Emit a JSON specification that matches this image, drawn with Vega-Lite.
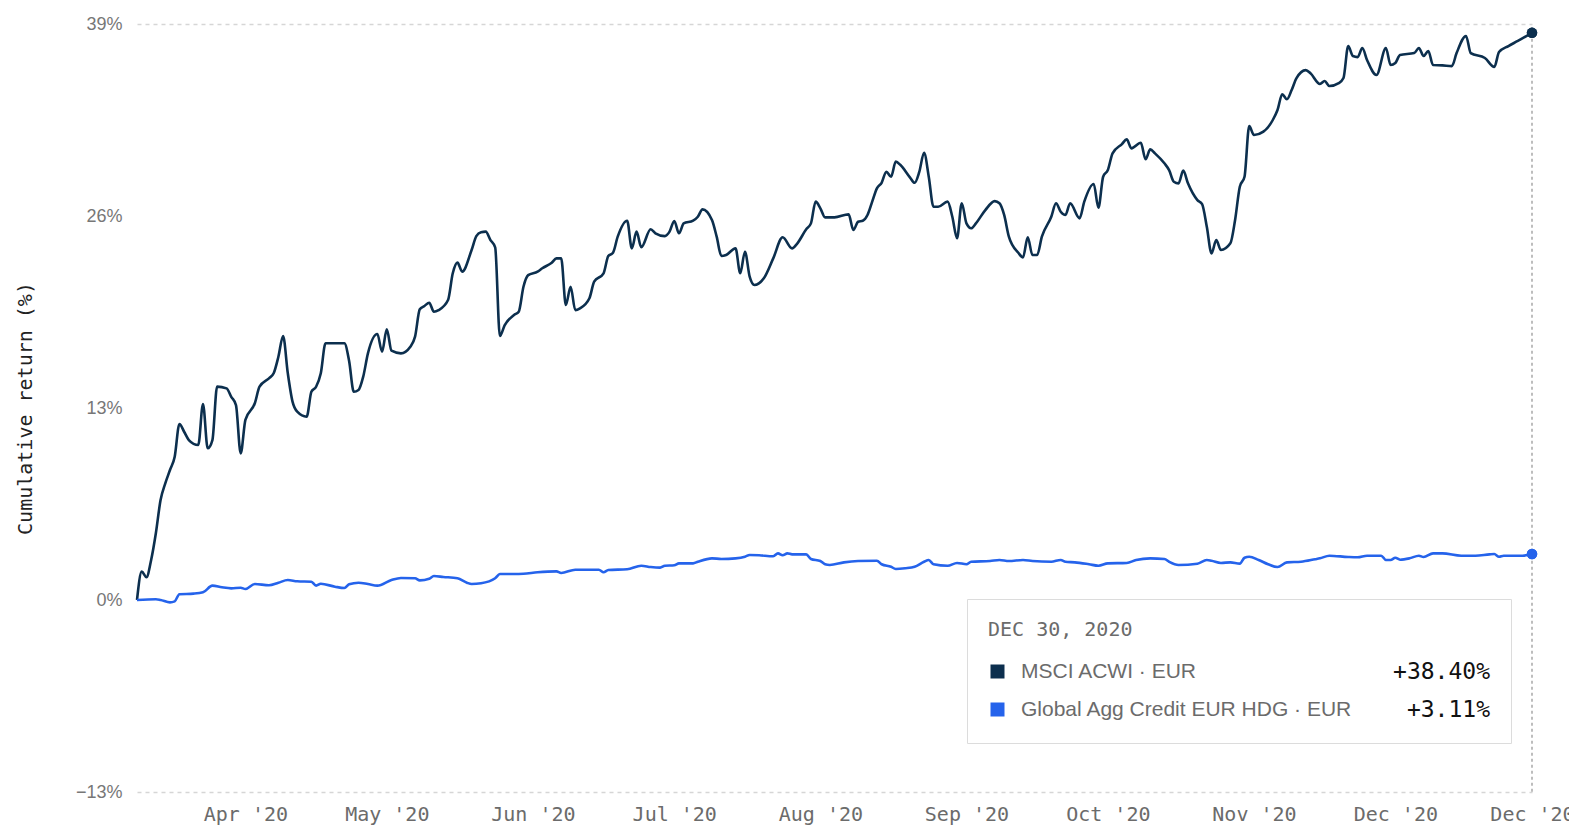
{
"$schema":"https://vega.github.io/schema/vega-lite/v6.json",
"width":1395,"height":768,
"autosize":{"type":"none"},
"padding":{"left":137,"top":24,"right":37,"bottom":48},
"background":"#ffffff",
"config":{"view":{"stroke":null}},
"datasets":{"rows":[
{"date":"2020-03-09","series":"MSCI ACWI · EUR","value":0},
{"date":"2020-03-10","series":"MSCI ACWI · EUR","value":1.92},
{"date":"2020-03-11","series":"MSCI ACWI · EUR","value":1.54},
{"date":"2020-03-12","series":"MSCI ACWI · EUR","value":2.71},
{"date":"2020-03-13","series":"MSCI ACWI · EUR","value":4.52},
{"date":"2020-03-14","series":"MSCI ACWI · EUR","value":6.77},
{"date":"2020-03-15","series":"MSCI ACWI · EUR","value":7.9},
{"date":"2020-03-16","series":"MSCI ACWI · EUR","value":8.8},
{"date":"2020-03-17","series":"MSCI ACWI · EUR","value":9.7},
{"date":"2020-03-18","series":"MSCI ACWI · EUR","value":11.92},
{"date":"2020-03-19","series":"MSCI ACWI · EUR","value":11.39},
{"date":"2020-03-20","series":"MSCI ACWI · EUR","value":10.83},
{"date":"2020-03-22","series":"MSCI ACWI · EUR","value":10.49},
{"date":"2020-03-23","series":"MSCI ACWI · EUR","value":13.27},
{"date":"2020-03-24","series":"MSCI ACWI · EUR","value":10.27},
{"date":"2020-03-25","series":"MSCI ACWI · EUR","value":10.83},
{"date":"2020-03-26","series":"MSCI ACWI · EUR","value":14.45},
{"date":"2020-03-28","series":"MSCI ACWI · EUR","value":14.33},
{"date":"2020-03-29","series":"MSCI ACWI · EUR","value":13.76},
{"date":"2020-03-30","series":"MSCI ACWI · EUR","value":13.2},
{"date":"2020-03-31","series":"MSCI ACWI · EUR","value":9.93},
{"date":"2020-04-01","series":"MSCI ACWI · EUR","value":12.19},
{"date":"2020-04-03","series":"MSCI ACWI · EUR","value":13.32},
{"date":"2020-04-04","series":"MSCI ACWI · EUR","value":14.44},
{"date":"2020-04-06","series":"MSCI ACWI · EUR","value":15.01},
{"date":"2020-04-07","series":"MSCI ACWI · EUR","value":15.35},
{"date":"2020-04-08","series":"MSCI ACWI · EUR","value":16.47},
{"date":"2020-04-09","series":"MSCI ACWI · EUR","value":17.87},
{"date":"2020-04-10","series":"MSCI ACWI · EUR","value":15.35},
{"date":"2020-04-11","series":"MSCI ACWI · EUR","value":13.43},
{"date":"2020-04-12","series":"MSCI ACWI · EUR","value":12.75},
{"date":"2020-04-14","series":"MSCI ACWI · EUR","value":12.41},
{"date":"2020-04-15","series":"MSCI ACWI · EUR","value":14.1},
{"date":"2020-04-16","series":"MSCI ACWI · EUR","value":14.44},
{"date":"2020-04-17","series":"MSCI ACWI · EUR","value":15.35},
{"date":"2020-04-18","series":"MSCI ACWI · EUR","value":17.38},
{"date":"2020-04-20","series":"MSCI ACWI · EUR","value":17.38},
{"date":"2020-04-22","series":"MSCI ACWI · EUR","value":17.38},
{"date":"2020-04-23","series":"MSCI ACWI · EUR","value":16.2},
{"date":"2020-04-24","series":"MSCI ACWI · EUR","value":14.1},
{"date":"2020-04-25","series":"MSCI ACWI · EUR","value":14.22},
{"date":"2020-04-26","series":"MSCI ACWI · EUR","value":15.12},
{"date":"2020-04-27","series":"MSCI ACWI · EUR","value":16.7},
{"date":"2020-04-29","series":"MSCI ACWI · EUR","value":18.01},
{"date":"2020-04-30","series":"MSCI ACWI · EUR","value":16.81},
{"date":"2020-05-01","series":"MSCI ACWI · EUR","value":18.33},
{"date":"2020-05-02","series":"MSCI ACWI · EUR","value":16.88},
{"date":"2020-05-04","series":"MSCI ACWI · EUR","value":16.7},
{"date":"2020-05-06","series":"MSCI ACWI · EUR","value":17.15},
{"date":"2020-05-07","series":"MSCI ACWI · EUR","value":17.83},
{"date":"2020-05-08","series":"MSCI ACWI · EUR","value":19.68},
{"date":"2020-05-09","series":"MSCI ACWI · EUR","value":19.91},
{"date":"2020-05-10","series":"MSCI ACWI · EUR","value":20.13},
{"date":"2020-05-11","series":"MSCI ACWI · EUR","value":19.52},
{"date":"2020-05-12","series":"MSCI ACWI · EUR","value":19.63},
{"date":"2020-05-14","series":"MSCI ACWI · EUR","value":20.31},
{"date":"2020-05-15","series":"MSCI ACWI · EUR","value":22.12},
{"date":"2020-05-16","series":"MSCI ACWI · EUR","value":22.84},
{"date":"2020-05-17","series":"MSCI ACWI · EUR","value":22.23},
{"date":"2020-05-19","series":"MSCI ACWI · EUR","value":23.7},
{"date":"2020-05-20","series":"MSCI ACWI · EUR","value":24.64},
{"date":"2020-05-21","series":"MSCI ACWI · EUR","value":24.9},
{"date":"2020-05-22","series":"MSCI ACWI · EUR","value":24.94},
{"date":"2020-05-23","series":"MSCI ACWI · EUR","value":24.37},
{"date":"2020-05-24","series":"MSCI ACWI · EUR","value":23.88},
{"date":"2020-05-25","series":"MSCI ACWI · EUR","value":17.87},
{"date":"2020-05-26","series":"MSCI ACWI · EUR","value":18.6},
{"date":"2020-05-28","series":"MSCI ACWI · EUR","value":19.3},
{"date":"2020-05-29","series":"MSCI ACWI · EUR","value":19.52},
{"date":"2020-05-30","series":"MSCI ACWI · EUR","value":21.21},
{"date":"2020-05-31","series":"MSCI ACWI · EUR","value":22.0},
{"date":"2020-06-02","series":"MSCI ACWI · EUR","value":22.23},
{"date":"2020-06-03","series":"MSCI ACWI · EUR","value":22.46},
{"date":"2020-06-05","series":"MSCI ACWI · EUR","value":22.84},
{"date":"2020-06-06","series":"MSCI ACWI · EUR","value":23.13},
{"date":"2020-06-07","series":"MSCI ACWI · EUR","value":23.13},
{"date":"2020-06-08","series":"MSCI ACWI · EUR","value":19.97},
{"date":"2020-06-09","series":"MSCI ACWI · EUR","value":21.21},
{"date":"2020-06-10","series":"MSCI ACWI · EUR","value":19.63},
{"date":"2020-06-11","series":"MSCI ACWI · EUR","value":19.75},
{"date":"2020-06-13","series":"MSCI ACWI · EUR","value":20.43},
{"date":"2020-06-14","series":"MSCI ACWI · EUR","value":21.55},
{"date":"2020-06-16","series":"MSCI ACWI · EUR","value":22.12},
{"date":"2020-06-17","series":"MSCI ACWI · EUR","value":23.29},
{"date":"2020-06-18","series":"MSCI ACWI · EUR","value":23.51},
{"date":"2020-06-19","series":"MSCI ACWI · EUR","value":24.6},
{"date":"2020-06-21","series":"MSCI ACWI · EUR","value":25.68},
{"date":"2020-06-22","series":"MSCI ACWI · EUR","value":23.81},
{"date":"2020-06-23","series":"MSCI ACWI · EUR","value":24.94},
{"date":"2020-06-24","series":"MSCI ACWI · EUR","value":23.88},
{"date":"2020-06-26","series":"MSCI ACWI · EUR","value":25.1},
{"date":"2020-06-27","series":"MSCI ACWI · EUR","value":24.83},
{"date":"2020-06-29","series":"MSCI ACWI · EUR","value":24.64},
{"date":"2020-06-30","series":"MSCI ACWI · EUR","value":24.94},
{"date":"2020-07-01","series":"MSCI ACWI · EUR","value":25.66},
{"date":"2020-07-02","series":"MSCI ACWI · EUR","value":24.83},
{"date":"2020-07-03","series":"MSCI ACWI · EUR","value":25.5},
{"date":"2020-07-05","series":"MSCI ACWI · EUR","value":25.68},
{"date":"2020-07-06","series":"MSCI ACWI · EUR","value":25.95},
{"date":"2020-07-07","series":"MSCI ACWI · EUR","value":26.45},
{"date":"2020-07-09","series":"MSCI ACWI · EUR","value":25.73},
{"date":"2020-07-10","series":"MSCI ACWI · EUR","value":24.6},
{"date":"2020-07-11","series":"MSCI ACWI · EUR","value":23.29},
{"date":"2020-07-12","series":"MSCI ACWI · EUR","value":23.36},
{"date":"2020-07-14","series":"MSCI ACWI · EUR","value":23.81},
{"date":"2020-07-15","series":"MSCI ACWI · EUR","value":22.12},
{"date":"2020-07-16","series":"MSCI ACWI · EUR","value":23.58},
{"date":"2020-07-17","series":"MSCI ACWI · EUR","value":21.89},
{"date":"2020-07-18","series":"MSCI ACWI · EUR","value":21.33},
{"date":"2020-07-20","series":"MSCI ACWI · EUR","value":21.78},
{"date":"2020-07-22","series":"MSCI ACWI · EUR","value":23.13},
{"date":"2020-07-24","series":"MSCI ACWI · EUR","value":24.56},
{"date":"2020-07-26","series":"MSCI ACWI · EUR","value":23.81},
{"date":"2020-07-27","series":"MSCI ACWI · EUR","value":24.1},
{"date":"2020-07-29","series":"MSCI ACWI · EUR","value":25.1},
{"date":"2020-07-30","series":"MSCI ACWI · EUR","value":25.5},
{"date":"2020-07-31","series":"MSCI ACWI · EUR","value":26.97},
{"date":"2020-08-01","series":"MSCI ACWI · EUR","value":26.52},
{"date":"2020-08-02","series":"MSCI ACWI · EUR","value":25.91},
{"date":"2020-08-04","series":"MSCI ACWI · EUR","value":25.91},
{"date":"2020-08-07","series":"MSCI ACWI · EUR","value":26.11},
{"date":"2020-08-08","series":"MSCI ACWI · EUR","value":25.05},
{"date":"2020-08-09","series":"MSCI ACWI · EUR","value":25.61},
{"date":"2020-08-10","series":"MSCI ACWI · EUR","value":25.68},
{"date":"2020-08-11","series":"MSCI ACWI · EUR","value":26.07},
{"date":"2020-08-12","series":"MSCI ACWI · EUR","value":26.97},
{"date":"2020-08-13","series":"MSCI ACWI · EUR","value":27.87},
{"date":"2020-08-14","series":"MSCI ACWI · EUR","value":28.25},
{"date":"2020-08-15","series":"MSCI ACWI · EUR","value":29.0},
{"date":"2020-08-16","series":"MSCI ACWI · EUR","value":28.66},
{"date":"2020-08-17","series":"MSCI ACWI · EUR","value":29.68},
{"date":"2020-08-18","series":"MSCI ACWI · EUR","value":29.45},
{"date":"2020-08-20","series":"MSCI ACWI · EUR","value":28.62},
{"date":"2020-08-21","series":"MSCI ACWI · EUR","value":28.25},
{"date":"2020-08-22","series":"MSCI ACWI · EUR","value":29.0},
{"date":"2020-08-23","series":"MSCI ACWI · EUR","value":30.28},
{"date":"2020-08-24","series":"MSCI ACWI · EUR","value":28.66},
{"date":"2020-08-25","series":"MSCI ACWI · EUR","value":26.63},
{"date":"2020-08-26","series":"MSCI ACWI · EUR","value":26.63},
{"date":"2020-08-28","series":"MSCI ACWI · EUR","value":26.97},
{"date":"2020-08-29","series":"MSCI ACWI · EUR","value":25.95},
{"date":"2020-08-30","series":"MSCI ACWI · EUR","value":24.49},
{"date":"2020-08-31","series":"MSCI ACWI · EUR","value":26.86},
{"date":"2020-09-01","series":"MSCI ACWI · EUR","value":25.5},
{"date":"2020-09-02","series":"MSCI ACWI · EUR","value":25.17},
{"date":"2020-09-03","series":"MSCI ACWI · EUR","value":25.5},
{"date":"2020-09-05","series":"MSCI ACWI · EUR","value":26.4},
{"date":"2020-09-07","series":"MSCI ACWI · EUR","value":27.01},
{"date":"2020-09-08","series":"MSCI ACWI · EUR","value":26.86},
{"date":"2020-09-09","series":"MSCI ACWI · EUR","value":26.07},
{"date":"2020-09-10","series":"MSCI ACWI · EUR","value":24.6},
{"date":"2020-09-12","series":"MSCI ACWI · EUR","value":23.51},
{"date":"2020-09-13","series":"MSCI ACWI · EUR","value":23.2},
{"date":"2020-09-14","series":"MSCI ACWI · EUR","value":24.56},
{"date":"2020-09-15","series":"MSCI ACWI · EUR","value":23.36},
{"date":"2020-09-16","series":"MSCI ACWI · EUR","value":23.36},
{"date":"2020-09-17","series":"MSCI ACWI · EUR","value":24.6},
{"date":"2020-09-19","series":"MSCI ACWI · EUR","value":25.95},
{"date":"2020-09-20","series":"MSCI ACWI · EUR","value":26.86},
{"date":"2020-09-21","series":"MSCI ACWI · EUR","value":26.29},
{"date":"2020-09-22","series":"MSCI ACWI · EUR","value":26.07},
{"date":"2020-09-23","series":"MSCI ACWI · EUR","value":26.86},
{"date":"2020-09-25","series":"MSCI ACWI · EUR","value":25.84},
{"date":"2020-09-26","series":"MSCI ACWI · EUR","value":26.97},
{"date":"2020-09-28","series":"MSCI ACWI · EUR","value":28.17},
{"date":"2020-09-29","series":"MSCI ACWI · EUR","value":26.56},
{"date":"2020-09-30","series":"MSCI ACWI · EUR","value":28.66},
{"date":"2020-10-01","series":"MSCI ACWI · EUR","value":29.11},
{"date":"2020-10-02","series":"MSCI ACWI · EUR","value":30.24},
{"date":"2020-10-04","series":"MSCI ACWI · EUR","value":30.87},
{"date":"2020-10-05","series":"MSCI ACWI · EUR","value":31.19},
{"date":"2020-10-06","series":"MSCI ACWI · EUR","value":30.58},
{"date":"2020-10-08","series":"MSCI ACWI · EUR","value":30.96},
{"date":"2020-10-09","series":"MSCI ACWI · EUR","value":29.84},
{"date":"2020-10-10","series":"MSCI ACWI · EUR","value":30.51},
{"date":"2020-10-11","series":"MSCI ACWI · EUR","value":30.24},
{"date":"2020-10-13","series":"MSCI ACWI · EUR","value":29.57},
{"date":"2020-10-14","series":"MSCI ACWI · EUR","value":29.11},
{"date":"2020-10-15","series":"MSCI ACWI · EUR","value":28.32},
{"date":"2020-10-16","series":"MSCI ACWI · EUR","value":28.21},
{"date":"2020-10-17","series":"MSCI ACWI · EUR","value":29.07},
{"date":"2020-10-18","series":"MSCI ACWI · EUR","value":28.21},
{"date":"2020-10-20","series":"MSCI ACWI · EUR","value":27.08},
{"date":"2020-10-21","series":"MSCI ACWI · EUR","value":26.81},
{"date":"2020-10-22","series":"MSCI ACWI · EUR","value":25.27},
{"date":"2020-10-23","series":"MSCI ACWI · EUR","value":23.47},
{"date":"2020-10-24","series":"MSCI ACWI · EUR","value":24.37},
{"date":"2020-10-25","series":"MSCI ACWI · EUR","value":23.7},
{"date":"2020-10-27","series":"MSCI ACWI · EUR","value":24.15},
{"date":"2020-10-28","series":"MSCI ACWI · EUR","value":25.73},
{"date":"2020-10-29","series":"MSCI ACWI · EUR","value":27.98},
{"date":"2020-10-30","series":"MSCI ACWI · EUR","value":28.66},
{"date":"2020-10-31","series":"MSCI ACWI · EUR","value":32.09},
{"date":"2020-11-01","series":"MSCI ACWI · EUR","value":31.48},
{"date":"2020-11-03","series":"MSCI ACWI · EUR","value":31.71},
{"date":"2020-11-05","series":"MSCI ACWI · EUR","value":32.5},
{"date":"2020-11-06","series":"MSCI ACWI · EUR","value":33.18},
{"date":"2020-11-07","series":"MSCI ACWI · EUR","value":34.24},
{"date":"2020-11-08","series":"MSCI ACWI · EUR","value":33.9},
{"date":"2020-11-09","series":"MSCI ACWI · EUR","value":34.53},
{"date":"2020-11-10","series":"MSCI ACWI · EUR","value":35.32},
{"date":"2020-11-12","series":"MSCI ACWI · EUR","value":35.88},
{"date":"2020-11-13","series":"MSCI ACWI · EUR","value":35.66},
{"date":"2020-11-15","series":"MSCI ACWI · EUR","value":34.94},
{"date":"2020-11-16","series":"MSCI ACWI · EUR","value":35.14},
{"date":"2020-11-17","series":"MSCI ACWI · EUR","value":34.8},
{"date":"2020-11-19","series":"MSCI ACWI · EUR","value":35.0},
{"date":"2020-11-20","series":"MSCI ACWI · EUR","value":35.34},
{"date":"2020-11-21","series":"MSCI ACWI · EUR","value":37.51},
{"date":"2020-11-22","series":"MSCI ACWI · EUR","value":36.83},
{"date":"2020-11-23","series":"MSCI ACWI · EUR","value":36.76},
{"date":"2020-11-24","series":"MSCI ACWI · EUR","value":37.37},
{"date":"2020-11-25","series":"MSCI ACWI · EUR","value":36.56},
{"date":"2020-11-27","series":"MSCI ACWI · EUR","value":35.55},
{"date":"2020-11-29","series":"MSCI ACWI · EUR","value":37.37},
{"date":"2020-11-30","series":"MSCI ACWI · EUR","value":36.22},
{"date":"2020-12-01","series":"MSCI ACWI · EUR","value":36.36},
{"date":"2020-12-02","series":"MSCI ACWI · EUR","value":36.9},
{"date":"2020-12-05","series":"MSCI ACWI · EUR","value":37.03},
{"date":"2020-12-06","series":"MSCI ACWI · EUR","value":37.37},
{"date":"2020-12-07","series":"MSCI ACWI · EUR","value":36.83},
{"date":"2020-12-08","series":"MSCI ACWI · EUR","value":37.17},
{"date":"2020-12-09","series":"MSCI ACWI · EUR","value":36.22},
{"date":"2020-12-11","series":"MSCI ACWI · EUR","value":36.2},
{"date":"2020-12-13","series":"MSCI ACWI · EUR","value":36.15},
{"date":"2020-12-14","series":"MSCI ACWI · EUR","value":37.03},
{"date":"2020-12-16","series":"MSCI ACWI · EUR","value":38.19},
{"date":"2020-12-17","series":"MSCI ACWI · EUR","value":37.03},
{"date":"2020-12-20","series":"MSCI ACWI · EUR","value":36.7},
{"date":"2020-12-22","series":"MSCI ACWI · EUR","value":36.09},
{"date":"2020-12-23","series":"MSCI ACWI · EUR","value":37.1},
{"date":"2020-12-25","series":"MSCI ACWI · EUR","value":37.51},
{"date":"2020-12-27","series":"MSCI ACWI · EUR","value":37.85},
{"date":"2020-12-30","series":"MSCI ACWI · EUR","value":38.4},
{"date":"2020-03-09","series":"Global Agg Credit EUR HDG · EUR","value":0},
{"date":"2020-03-13","series":"Global Agg Credit EUR HDG · EUR","value":0.05},
{"date":"2020-03-14","series":"Global Agg Credit EUR HDG · EUR","value":0.0},
{"date":"2020-03-16","series":"Global Agg Credit EUR HDG · EUR","value":-0.16},
{"date":"2020-03-17","series":"Global Agg Credit EUR HDG · EUR","value":-0.09},
{"date":"2020-03-18","series":"Global Agg Credit EUR HDG · EUR","value":0.39},
{"date":"2020-03-21","series":"Global Agg Credit EUR HDG · EUR","value":0.43},
{"date":"2020-03-23","series":"Global Agg Credit EUR HDG · EUR","value":0.52},
{"date":"2020-03-25","series":"Global Agg Credit EUR HDG · EUR","value":0.97},
{"date":"2020-03-27","series":"Global Agg Credit EUR HDG · EUR","value":0.86},
{"date":"2020-03-29","series":"Global Agg Credit EUR HDG · EUR","value":0.79},
{"date":"2020-03-31","series":"Global Agg Credit EUR HDG · EUR","value":0.83},
{"date":"2020-04-01","series":"Global Agg Credit EUR HDG · EUR","value":0.74},
{"date":"2020-04-03","series":"Global Agg Credit EUR HDG · EUR","value":1.08},
{"date":"2020-04-06","series":"Global Agg Credit EUR HDG · EUR","value":1.0},
{"date":"2020-04-08","series":"Global Agg Credit EUR HDG · EUR","value":1.17},
{"date":"2020-04-10","series":"Global Agg Credit EUR HDG · EUR","value":1.35},
{"date":"2020-04-12","series":"Global Agg Credit EUR HDG · EUR","value":1.27},
{"date":"2020-04-15","series":"Global Agg Credit EUR HDG · EUR","value":1.24},
{"date":"2020-04-16","series":"Global Agg Credit EUR HDG · EUR","value":0.97},
{"date":"2020-04-17","series":"Global Agg Credit EUR HDG · EUR","value":1.1},
{"date":"2020-04-20","series":"Global Agg Credit EUR HDG · EUR","value":0.9},
{"date":"2020-04-22","series":"Global Agg Credit EUR HDG · EUR","value":0.81},
{"date":"2020-04-23","series":"Global Agg Credit EUR HDG · EUR","value":1.06},
{"date":"2020-04-25","series":"Global Agg Credit EUR HDG · EUR","value":1.17},
{"date":"2020-04-27","series":"Global Agg Credit EUR HDG · EUR","value":1.08},
{"date":"2020-04-29","series":"Global Agg Credit EUR HDG · EUR","value":0.97},
{"date":"2020-05-02","series":"Global Agg Credit EUR HDG · EUR","value":1.35},
{"date":"2020-05-04","series":"Global Agg Credit EUR HDG · EUR","value":1.49},
{"date":"2020-05-07","series":"Global Agg Credit EUR HDG · EUR","value":1.47},
{"date":"2020-05-08","series":"Global Agg Credit EUR HDG · EUR","value":1.33},
{"date":"2020-05-10","series":"Global Agg Credit EUR HDG · EUR","value":1.44},
{"date":"2020-05-11","series":"Global Agg Credit EUR HDG · EUR","value":1.62},
{"date":"2020-05-13","series":"Global Agg Credit EUR HDG · EUR","value":1.56},
{"date":"2020-05-16","series":"Global Agg Credit EUR HDG · EUR","value":1.47},
{"date":"2020-05-18","series":"Global Agg Credit EUR HDG · EUR","value":1.17},
{"date":"2020-05-19","series":"Global Agg Credit EUR HDG · EUR","value":1.08},
{"date":"2020-05-21","series":"Global Agg Credit EUR HDG · EUR","value":1.13},
{"date":"2020-05-24","series":"Global Agg Credit EUR HDG · EUR","value":1.47},
{"date":"2020-05-25","series":"Global Agg Credit EUR HDG · EUR","value":1.76},
{"date":"2020-05-28","series":"Global Agg Credit EUR HDG · EUR","value":1.76},
{"date":"2020-05-30","series":"Global Agg Credit EUR HDG · EUR","value":1.78},
{"date":"2020-06-02","series":"Global Agg Credit EUR HDG · EUR","value":1.88},
{"date":"2020-06-06","series":"Global Agg Credit EUR HDG · EUR","value":1.94},
{"date":"2020-06-07","series":"Global Agg Credit EUR HDG · EUR","value":1.83},
{"date":"2020-06-10","series":"Global Agg Credit EUR HDG · EUR","value":2.05},
{"date":"2020-06-15","series":"Global Agg Credit EUR HDG · EUR","value":2.05},
{"date":"2020-06-16","series":"Global Agg Credit EUR HDG · EUR","value":1.88},
{"date":"2020-06-17","series":"Global Agg Credit EUR HDG · EUR","value":2.03},
{"date":"2020-06-21","series":"Global Agg Credit EUR HDG · EUR","value":2.08},
{"date":"2020-06-24","series":"Global Agg Credit EUR HDG · EUR","value":2.32},
{"date":"2020-06-26","series":"Global Agg Credit EUR HDG · EUR","value":2.23},
{"date":"2020-06-28","series":"Global Agg Credit EUR HDG · EUR","value":2.19},
{"date":"2020-06-29","series":"Global Agg Credit EUR HDG · EUR","value":2.32},
{"date":"2020-07-01","series":"Global Agg Credit EUR HDG · EUR","value":2.35},
{"date":"2020-07-02","series":"Global Agg Credit EUR HDG · EUR","value":2.48},
{"date":"2020-07-05","series":"Global Agg Credit EUR HDG · EUR","value":2.48},
{"date":"2020-07-06","series":"Global Agg Credit EUR HDG · EUR","value":2.59},
{"date":"2020-07-09","series":"Global Agg Credit EUR HDG · EUR","value":2.82},
{"date":"2020-07-11","series":"Global Agg Credit EUR HDG · EUR","value":2.78},
{"date":"2020-07-14","series":"Global Agg Credit EUR HDG · EUR","value":2.82},
{"date":"2020-07-16","series":"Global Agg Credit EUR HDG · EUR","value":2.93},
{"date":"2020-07-17","series":"Global Agg Credit EUR HDG · EUR","value":3.05},
{"date":"2020-07-19","series":"Global Agg Credit EUR HDG · EUR","value":3.03},
{"date":"2020-07-22","series":"Global Agg Credit EUR HDG · EUR","value":2.96},
{"date":"2020-07-23","series":"Global Agg Credit EUR HDG · EUR","value":3.16},
{"date":"2020-07-24","series":"Global Agg Credit EUR HDG · EUR","value":3.03},
{"date":"2020-07-25","series":"Global Agg Credit EUR HDG · EUR","value":3.16},
{"date":"2020-07-26","series":"Global Agg Credit EUR HDG · EUR","value":3.09},
{"date":"2020-07-29","series":"Global Agg Credit EUR HDG · EUR","value":3.09},
{"date":"2020-07-30","series":"Global Agg Credit EUR HDG · EUR","value":2.78},
{"date":"2020-08-01","series":"Global Agg Credit EUR HDG · EUR","value":2.64},
{"date":"2020-08-02","series":"Global Agg Credit EUR HDG · EUR","value":2.42},
{"date":"2020-08-03","series":"Global Agg Credit EUR HDG · EUR","value":2.37},
{"date":"2020-08-06","series":"Global Agg Credit EUR HDG · EUR","value":2.55},
{"date":"2020-08-09","series":"Global Agg Credit EUR HDG · EUR","value":2.64},
{"date":"2020-08-13","series":"Global Agg Credit EUR HDG · EUR","value":2.66},
{"date":"2020-08-14","series":"Global Agg Credit EUR HDG · EUR","value":2.42},
{"date":"2020-08-16","series":"Global Agg Credit EUR HDG · EUR","value":2.25},
{"date":"2020-08-17","series":"Global Agg Credit EUR HDG · EUR","value":2.1},
{"date":"2020-08-19","series":"Global Agg Credit EUR HDG · EUR","value":2.15},
{"date":"2020-08-21","series":"Global Agg Credit EUR HDG · EUR","value":2.25},
{"date":"2020-08-23","series":"Global Agg Credit EUR HDG · EUR","value":2.59},
{"date":"2020-08-24","series":"Global Agg Credit EUR HDG · EUR","value":2.71},
{"date":"2020-08-25","series":"Global Agg Credit EUR HDG · EUR","value":2.42},
{"date":"2020-08-28","series":"Global Agg Credit EUR HDG · EUR","value":2.32},
{"date":"2020-08-30","series":"Global Agg Credit EUR HDG · EUR","value":2.51},
{"date":"2020-09-01","series":"Global Agg Credit EUR HDG · EUR","value":2.42},
{"date":"2020-09-02","series":"Global Agg Credit EUR HDG · EUR","value":2.59},
{"date":"2020-09-06","series":"Global Agg Credit EUR HDG · EUR","value":2.64},
{"date":"2020-09-08","series":"Global Agg Credit EUR HDG · EUR","value":2.71},
{"date":"2020-09-10","series":"Global Agg Credit EUR HDG · EUR","value":2.64},
{"date":"2020-09-13","series":"Global Agg Credit EUR HDG · EUR","value":2.71},
{"date":"2020-09-15","series":"Global Agg Credit EUR HDG · EUR","value":2.64},
{"date":"2020-09-19","series":"Global Agg Credit EUR HDG · EUR","value":2.59},
{"date":"2020-09-21","series":"Global Agg Credit EUR HDG · EUR","value":2.71},
{"date":"2020-09-22","series":"Global Agg Credit EUR HDG · EUR","value":2.59},
{"date":"2020-09-24","series":"Global Agg Credit EUR HDG · EUR","value":2.55},
{"date":"2020-09-27","series":"Global Agg Credit EUR HDG · EUR","value":2.42},
{"date":"2020-09-29","series":"Global Agg Credit EUR HDG · EUR","value":2.32},
{"date":"2020-10-01","series":"Global Agg Credit EUR HDG · EUR","value":2.48},
{"date":"2020-10-05","series":"Global Agg Credit EUR HDG · EUR","value":2.51},
{"date":"2020-10-07","series":"Global Agg Credit EUR HDG · EUR","value":2.71},
{"date":"2020-10-10","series":"Global Agg Credit EUR HDG · EUR","value":2.82},
{"date":"2020-10-13","series":"Global Agg Credit EUR HDG · EUR","value":2.78},
{"date":"2020-10-14","series":"Global Agg Credit EUR HDG · EUR","value":2.59},
{"date":"2020-10-16","series":"Global Agg Credit EUR HDG · EUR","value":2.37},
{"date":"2020-10-20","series":"Global Agg Credit EUR HDG · EUR","value":2.46},
{"date":"2020-10-22","series":"Global Agg Credit EUR HDG · EUR","value":2.71},
{"date":"2020-10-23","series":"Global Agg Credit EUR HDG · EUR","value":2.66},
{"date":"2020-10-25","series":"Global Agg Credit EUR HDG · EUR","value":2.51},
{"date":"2020-10-27","series":"Global Agg Credit EUR HDG · EUR","value":2.55},
{"date":"2020-10-29","series":"Global Agg Credit EUR HDG · EUR","value":2.46},
{"date":"2020-10-30","series":"Global Agg Credit EUR HDG · EUR","value":2.86},
{"date":"2020-10-31","series":"Global Agg Credit EUR HDG · EUR","value":2.93},
{"date":"2020-11-02","series":"Global Agg Credit EUR HDG · EUR","value":2.71},
{"date":"2020-11-04","series":"Global Agg Credit EUR HDG · EUR","value":2.42},
{"date":"2020-11-06","series":"Global Agg Credit EUR HDG · EUR","value":2.23},
{"date":"2020-11-08","series":"Global Agg Credit EUR HDG · EUR","value":2.55},
{"date":"2020-11-11","series":"Global Agg Credit EUR HDG · EUR","value":2.59},
{"date":"2020-11-14","series":"Global Agg Credit EUR HDG · EUR","value":2.76},
{"date":"2020-11-15","series":"Global Agg Credit EUR HDG · EUR","value":2.82},
{"date":"2020-11-17","series":"Global Agg Credit EUR HDG · EUR","value":3.0},
{"date":"2020-11-21","series":"Global Agg Credit EUR HDG · EUR","value":2.91},
{"date":"2020-11-23","series":"Global Agg Credit EUR HDG · EUR","value":2.89},
{"date":"2020-11-25","series":"Global Agg Credit EUR HDG · EUR","value":3.0},
{"date":"2020-11-28","series":"Global Agg Credit EUR HDG · EUR","value":3.0},
{"date":"2020-11-29","series":"Global Agg Credit EUR HDG · EUR","value":2.71},
{"date":"2020-11-30","series":"Global Agg Credit EUR HDG · EUR","value":2.71},
{"date":"2020-12-01","series":"Global Agg Credit EUR HDG · EUR","value":2.86},
{"date":"2020-12-02","series":"Global Agg Credit EUR HDG · EUR","value":2.73},
{"date":"2020-12-04","series":"Global Agg Credit EUR HDG · EUR","value":2.82},
{"date":"2020-12-06","series":"Global Agg Credit EUR HDG · EUR","value":3.0},
{"date":"2020-12-07","series":"Global Agg Credit EUR HDG · EUR","value":2.91},
{"date":"2020-12-09","series":"Global Agg Credit EUR HDG · EUR","value":3.16},
{"date":"2020-12-11","series":"Global Agg Credit EUR HDG · EUR","value":3.16},
{"date":"2020-12-15","series":"Global Agg Credit EUR HDG · EUR","value":3.0},
{"date":"2020-12-18","series":"Global Agg Credit EUR HDG · EUR","value":3.0},
{"date":"2020-12-21","series":"Global Agg Credit EUR HDG · EUR","value":3.09},
{"date":"2020-12-22","series":"Global Agg Credit EUR HDG · EUR","value":3.11},
{"date":"2020-12-23","series":"Global Agg Credit EUR HDG · EUR","value":2.93},
{"date":"2020-12-24","series":"Global Agg Credit EUR HDG · EUR","value":3.0},
{"date":"2020-12-28","series":"Global Agg Credit EUR HDG · EUR","value":3.0},
{"date":"2020-12-30","series":"Global Agg Credit EUR HDG · EUR","value":3.11}
]},
"data":{"name":"rows"},
"encoding":{
 "x":{"field":"date","type":"temporal",
  "scale":{"type":"utc","domain":[{"year":2020,"month":3,"date":9,"utc":true},{"year":2020,"month":12,"date":30,"utc":true}]},
  "axis":{"title":null,"format":"%b '%y","labelFont":"DejaVu Sans Mono","labelFontSize":20,"labelColor":"#6b6b6b","labelPadding":12,"ticks":false,"domain":false,"grid":false,"labelOverlap":false,"labelFlush":false,
   "values":[{"year":2020,"month":4,"date":1,"utc":true},{"year":2020,"month":5,"date":1,"utc":true},{"year":2020,"month":6,"date":1,"utc":true},{"year":2020,"month":7,"date":1,"utc":true},{"year":2020,"month":8,"date":1,"utc":true},{"year":2020,"month":9,"date":1,"utc":true},{"year":2020,"month":10,"date":1,"utc":true},{"year":2020,"month":11,"date":1,"utc":true},{"year":2020,"month":12,"date":1,"utc":true},{"year":2020,"month":12,"date":30,"utc":true}]}},
 "y":{"field":"value","type":"quantitative",
  "scale":{"domain":[-13,39],"nice":false,"zero":false},
  "axis":{"title":"Cumulative return (%)","titleFont":"DejaVu Sans Mono","titleFontSize":20,"titleFontWeight":"normal","titleColor":"#222222","titlePadding":40,
   "values":[-13,0,13,26,39],"format":"d","labelExpr":"datum.label + '%'","labelFont":"Liberation Sans","labelFontSize":18,"labelColor":"#777777","labelPadding":15,"ticks":false,"domain":false,
   "grid":true,"gridDash":[4,4],"gridColor":"#d6d6d6","gridWidth":1.5,
   "gridOpacity":{"condition":{"test":"datum.value == 39 || datum.value == -13","value":1},"value":0}}},
 "color":{"field":"series","type":"nominal","scale":{"domain":["MSCI ACWI · EUR","Global Agg Credit EUR HDG · EUR"],"range":["#0c2f4e","#2563eb"]},
   "legend":{"orient":"none","legendX":850,"legendY":637,"title":null,"padding":0,
    "symbolType":"square","symbolSize":196,"symbolStrokeWidth":0,
    "labelFont":"Liberation Sans","labelFontSize":21,"labelColor":"#6b6b6b","labelOffset":13,"labelLimit":0,"rowPadding":16,
    "encode":{"symbols":{"update":{"fill":{"scale":"color","field":"value"},"stroke":{"value":"transparent"},"opacity":{"value":1}}}}}}
},
"layer":[
 {"transform":[{"filter":{"field":"date","equal":{"year":2020,"month":12,"date":30,"utc":true}}},{"calculate":"'+' + format(datum.value, '.2f') + '%'","as":"label"}],
  "mark":{"type":"point","filled":true,"size":110,"opacity":1},
  "encoding":{
   "shape":{"field":"label","type":"nominal","sort":{"field":"value","op":"max","order":"descending"},"scale":{"range":["circle","circle"]},
    "legend":{"orient":"none","legendX":830,"legendY":575,"direction":"vertical",
     "title":"DEC 30, 2020","titleFont":"DejaVu Sans Mono","titleFontSize":20,"titleFontWeight":"normal","titleColor":"#6b6b6b","titlePadding":20,"titleAnchor":"start",
     "strokeColor":"#dcdcdc","padding":21,
     "symbolOpacity":0,"symbolSize":0,
     "labelFont":"DejaVu Sans Mono","labelFontSize":23,"labelColor":"#111111","labelAlign":"right","labelOffset":479,"labelLimit":0,"rowPadding":14}}}},
 {"mark":{"type":"line","interpolate":"monotone","strokeWidth":2.6}},
 {"transform":[{"filter":{"field":"date","equal":{"year":2020,"month":12,"date":30,"utc":true}}},{"joinaggregate":[{"op":"max","field":"value","as":"mx"}]},{"filter":"datum.value == datum.mx"}],
  "mark":{"type":"rule","strokeDash":[3,3],"strokeWidth":1.3},
  "encoding":{"y2":{"datum":-13},"color":{"value":"#9a9a9a"}}},
 {"transform":[{"filter":{"field":"date","equal":{"year":2020,"month":12,"date":30,"utc":true}}}],
  "mark":{"type":"point","filled":true,"size":110,"opacity":1}}
]
}
